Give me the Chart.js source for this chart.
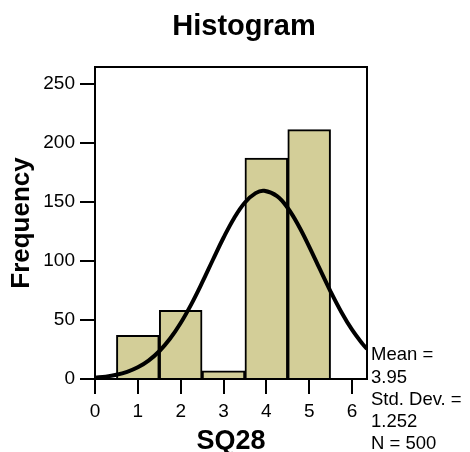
<!DOCTYPE html>
<html><head><meta charset="utf-8">
<script src="https://cdn.jsdelivr.net/npm/chart.js@4/dist/chart.umd.min.js"></script>
<style>html,body{margin:0;padding:0;background:#fff}#wrap{width:470px;height:452px}</style>
</head><body><div id="wrap"><canvas id="c" width="470" height="452"></canvas></div>
<script>
// ---- data ----
const binCenters = [1, 2, 3, 4, 5];
const frequencies = [37, 58, 7, 187, 211];
const curveX = [0, 0.25, 0.5, 0.75, 1, 1.25, 1.5, 1.75, 2, 2.25, 2.5, 2.75, 3, 3.25, 3.5, 3.75, 3.95, 4.25, 4.5, 4.75, 5, 5.25, 5.5, 5.75, 6, 6.25, 6.35];
const curveY = [1.1, 2.0, 3.6, 6.1, 9.9, 15.6, 23.5, 34.0, 47.4, 63.4, 81.5, 100.7, 119.5, 136.3, 149.4, 157.3, 159.3, 154.8, 144.7, 129.9, 112.1, 92.9, 74.0, 56.7, 41.7, 29.5, 25.4];
const xTickValues = [0, 1, 2, 3, 4, 5, 6];
const yTickValues = [0, 50, 100, 150, 200, 250];
const titleText = 'Histogram';
const xTitle = 'SQ28';
const yTitle = 'Frequency';
const statsLines = ['Mean =', '3.95', 'Std. Dev. =', '1.252', 'N = 500'];

const FONT = "'Liberation Sans', Arial, Helvetica, sans-serif";
Chart.defaults.font.family = FONT;
Chart.defaults.color = '#000';

const extras = {
  id: 'extras',
  afterDatasetsDraw(chart) {
    const {ctx, chartArea: a} = chart;
    ctx.save();
    ctx.strokeStyle = '#000';
    ctx.lineWidth = 2;
    ctx.strokeRect(a.left, a.top, a.right - a.left, a.bottom - a.top);
    ctx.restore();
  },
  afterDraw(chart) {
    const ctx = chart.ctx;
    ctx.save();
    ctx.fillStyle = '#000';
    ctx.textAlign = 'center';
    ctx.textBaseline = 'alphabetic';
    ctx.font = "bold 29px " + FONT;
    ctx.fillText(titleText, 244, 35);
    ctx.textAlign = 'left';
    ctx.font = "18.5px " + FONT;
    const base = [360, 383, 405, 427, 449];
    statsLines.forEach((s, i) => ctx.fillText(s, 371, base[i]));
    ctx.restore();
  }
};

new Chart(document.getElementById('c'), {
  data: {
    datasets: [
      {
        type: 'line',
        data: curveX.map((x, i) => ({x, y: curveY[i]})),
        borderColor: '#000',
        borderWidth: 4,
        pointRadius: 0,
        tension: 0.4,
        fill: false,
        order: 0
      },
      {
        type: 'bar',
        data: binCenters.map((x, i) => ({x, y: frequencies[i]})),
        backgroundColor: '#D3CE98',
        borderColor: '#000',
        borderWidth: 2,
        barPercentage: 1,
        categoryPercentage: 1,
        grouped: false,
        order: 1
      }
    ]
  },
  options: {
    responsive: false,
    devicePixelRatio: 1,
    animation: false,
    layout: {padding: {top: 67, right: 103, bottom: 0, left: 0}},
    plugins: {legend: {display: false}, tooltip: {enabled: false}, title: {display: false}},
    scales: {
      x: {
        type: 'linear', min: 0, max: 6.35, offset: false,
        afterBuildTicks: s => { s.ticks = xTickValues.map(v => ({value: v})); },
        afterFit: s => { s.height = 73; },
        grid: {display: true, offset: false, drawOnChartArea: false, drawTicks: true, tickLength: 15, color: '#000', lineWidth: 2},
        border: {display: true, color: '#000', width: 2},
        ticks: {font: {size: 19}, color: '#000', padding: 6, autoSkip: false, maxRotation: 0},
        title: {display: true, text: xTitle, color: '#000', font: {size: 27, weight: 'bold', lineHeight: 0.8}, padding: {top: 0, bottom: 0}}
      },
      y: {
        type: 'linear', min: 0, max: 264,
        afterBuildTicks: s => { s.ticks = yTickValues.map(v => ({value: v})); },
        afterFit: s => { s.width = 95; },
        grid: {display: true, drawOnChartArea: false, drawTicks: true, tickLength: 15, color: '#000', lineWidth: 2},
        border: {display: true, color: '#000', width: 2},
        ticks: {font: {size: 19}, color: '#000', padding: 5},
        title: {display: true, text: yTitle, color: '#000', font: {size: 26, weight: 'bold', lineHeight: 1.2}, padding: {top: 6, bottom: 0}}
      }
    }
  },
  plugins: [extras]
});
</script></body></html>
